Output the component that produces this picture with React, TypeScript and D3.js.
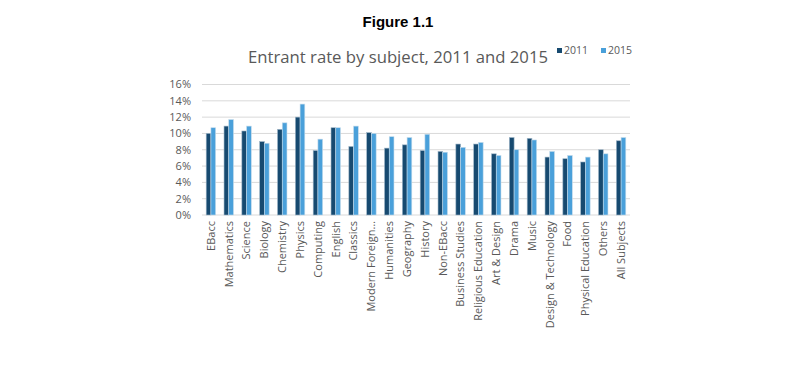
import * as d3 from "d3";
import React from "react";

// values (percent)
const subjects = [
  "EBacc", "Mathematics", "Science", "Biology", "Chemistry", "Physics",
  "Computing", "English", "Classics", "Modern Foreign…", "Humanities",
  "Geography", "History", "Non-EBacc", "Business Studies",
  "Religious Education", "Art & Design", "Drama", "Music",
  "Design & Technology", "Food", "Physical Education", "Others", "All Subjects",
];
const rate2011 = [
  10.0, 10.9, 10.3, 9.0, 10.5, 12.0, 7.9, 10.7, 8.4, 10.1, 8.2, 8.6,
  7.9, 7.8, 8.7, 8.7, 7.5, 9.5, 9.4, 7.1, 6.9, 6.5, 8.0, 9.1,
];
const rate2015 = [
  10.7, 11.7, 10.9, 8.8, 11.3, 13.6, 9.3, 10.7, 10.9, 10.0, 9.6, 9.5,
  9.9, 7.7, 8.3, 8.9, 7.3, 8.0, 9.2, 7.8, 7.3, 7.1, 7.5, 9.5,
];
const seriesNames = ["2011", "2015"];
const yTicks = [0, 2, 4, 6, 8, 10, 12, 14, 16];

const colors: Record<string, string> = { "2011": "#174a70", "2015": "#4aa0da" };
const font = "'Open Sans', 'Noto Sans', sans-serif";

const App = () => {
  const width = 800;
  const height = 367;

  const x = d3.scaleBand().domain(subjects).range([202, 630]);
  const x1 = d3
    .scaleBand()
    .domain(seriesNames)
    .range([x.bandwidth() * 0.235, x.bandwidth() * 0.765]);
  const y = d3.scaleLinear().domain([0, 16]).range([215, 84.5]);

  const rows = subjects.map((s, i) => ({ s, "2011": rate2011[i], "2015": rate2015[i] }));

  return (
    <svg width={width} height={height} style={{ position: "absolute", left: 0, top: 0, background: "#fff" }}>
      <text x={398} y={27} textAnchor="middle" fontFamily="'Liberation Sans', Arial, sans-serif"
        fontWeight="bold" fontSize={15} fill="#000">Figure 1.1</text>
      <text x={248} y={63} fontFamily={font} fontSize={17} fill="#595959"
        textLength={300} lengthAdjust="spacingAndGlyphs">Entrant rate by subject, 2011 and 2015</text>

      {/* legend */}
      {seriesNames.map((n, i) => (
        <g key={n} transform={`translate(${557 + i * 44},0)`}>
          <rect x={0} y={48} width={5} height={5} fill={colors[n]} />
          <text x={7} y={54} fontFamily={font} fontSize={10.5} fill="#595959">{n}</text>
        </g>
      ))}

      {/* grid + y axis */}
      {yTicks.map((t) => (
        <g key={t}>
          <line x1={202} x2={630} y1={y(t)} y2={y(t)} stroke="#d9d9d9" strokeWidth={1} />
          <text x={191} y={y(t)} dy="0.35em" textAnchor="end" fontFamily={font}
            fontSize={11} fill="#595959">{t}%</text>
        </g>
      ))}

      {/* bars */}
      {rows.map((r) => (
        <g key={r.s} transform={`translate(${x(r.s)},0)`}>
          {seriesNames.map((n) => (
            <rect key={n} x={x1(n)} y={y(r[n])} width={x1.bandwidth()}
              height={y(0) - y(r[n])} fill={colors[n]}
              stroke={n === "2015" ? "#c6dcec" : "#9fb6c8"} strokeWidth={0.6} />
          ))}
        </g>
      ))}

      {/* x labels */}
      {subjects.map((s) => (
        <text key={s} transform={`translate(${x(s)! + x.bandwidth() / 2},221) rotate(-90)`}
          dy="0.35em" textAnchor="end" fontFamily={font} fontSize={11} fill="#595959">{s}</text>
      ))}
    </svg>
  );
};

export default App;
